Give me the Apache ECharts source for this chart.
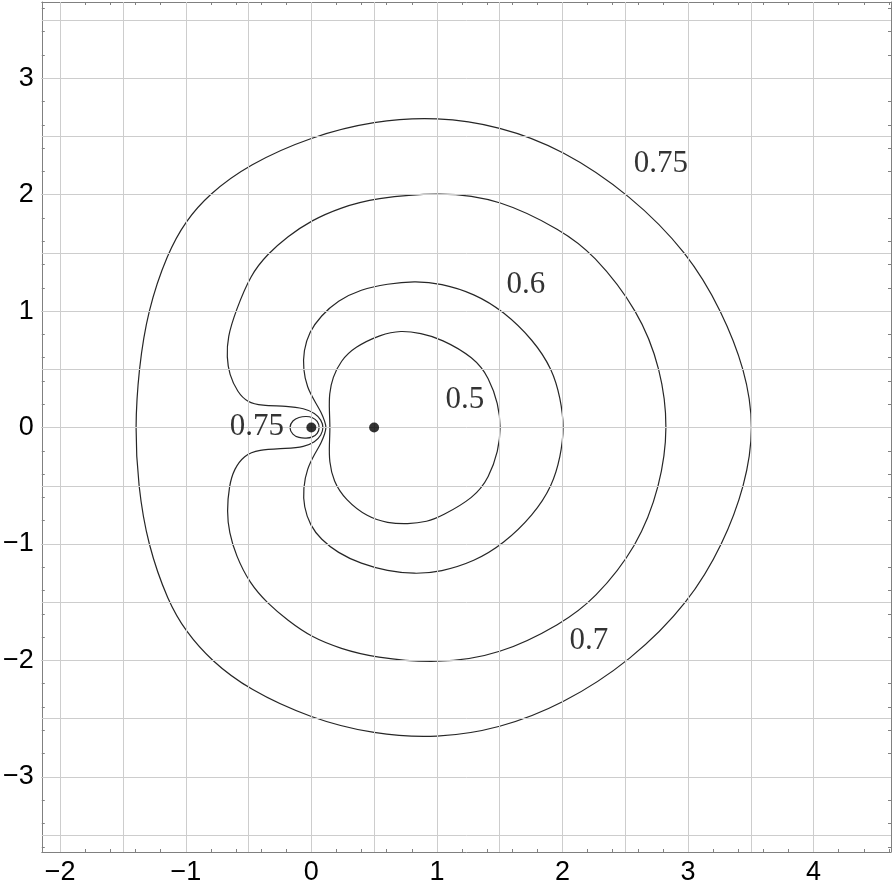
<!DOCTYPE html>
<html>
<head>
<meta charset="utf-8">
<script src="https://cdn.jsdelivr.net/npm/echarts@6/dist/echarts.min.js"></script>
<style>
html,body{margin:0;padding:0;background:#fff;}
#chart{width:895px;height:893px;}
</style>
</head>
<body>
<div id="chart"></div>
<script>
// ---- axis extents and ticks ----
const xRange = [-2.147, 4.617];
const yRange = [-3.645, 3.655];
const xTickLabels = [-2, -1, 0, 1, 2, 3, 4];
const yTickLabels = [-3, -2, -1, 0, 1, 2, 3];
const xMinorTicks = [-2.0,-1.8,-1.6,-1.4,-1.2,-1.0,-0.8,-0.6,-0.4,-0.2,0,0.2,0.4,0.6,0.8,1.0,1.2,1.4,1.6,1.8,2.0,2.2,2.4,2.6,2.8,3.0,3.2,3.4,3.6,3.8,4.0,4.2,4.4,4.6];
const yMinorTicks = [-3.6,-3.4,-3.2,-3.0,-2.8,-2.6,-2.4,-2.2,-2.0,-1.8,-1.6,-1.4,-1.2,-1.0,-0.8,-0.6,-0.4,-0.2,0,0.2,0.4,0.6,0.8,1.0,1.2,1.4,1.6,1.8,2.0,2.2,2.4,2.6,2.8,3.0,3.2,3.4,3.6];
const xGridLines = [-2,-1.5,-1,-0.5,0,0.5,1,1.5,2,2.5,3,3.5,4];
const yGridLines = [-3.5,-3,-2.5,-2,-1.5,-1,-0.5,0,0.5,1,1.5,2,2.5,3,3.5];

// ---- contour data, closed loops ----
const contour075outer = [
  [3.53,0],[3.455,0.5],[3.27,1.0],[3.0,1.5],[2.54,2.0],[2.0,2.39],[1.5,2.59],[1.0,2.67],
  [0.5,2.635],[0.0,2.50],[-0.5,2.26],[-0.82,2.0],[-1.0,1.775],[-1.146,1.5],[-1.305,1.0],
  [-1.375,0.5],[-1.405,0],[-1.38,-0.5],[-1.305,-1.0],[-1.14,-1.5],[-1.0,-1.75],[-0.80,-2.0],
  [-0.5,-2.25],[0.0,-2.50],[0.5,-2.635],[1.0,-2.67],[1.5,-2.585],[2.0,-2.38],[2.55,-2.0],
  [3.01,-1.5],[3.28,-1.0],[3.455,-0.5]
];
const contour075inner = [
  [0.068,0],[0.05,0.058],[0.01,0.088],[-0.04,0.098],[-0.1,0.09],[-0.15,0.062],[-0.18,0],
  [-0.15,-0.062],[-0.1,-0.088],[-0.04,-0.093],[0.01,-0.083],[0.05,-0.053]
];
const contour07 = [
  [2.845,0],[2.785,0.5],[2.61,1.0],[2.24,1.5],[2.0,1.69],[1.5,1.965],[1.03,2.025],
  [0.5,1.97],[0.235,1.89],[0.0,1.78],[-0.19,1.64],[-0.349,1.49],[-0.482,1.317],
  [-0.602,1.003],[-0.668,0.774],[-0.673,0.602],[-0.655,0.46],[-0.588,0.302],[-0.508,0.217],
  [-0.402,0.189],[-0.19,0.185],[-0.057,0.165],[0.03,0.125],[0.08,0.065],[0.098,0],
  [0.08,-0.065],[0.03,-0.125],[-0.057,-0.165],[-0.19,-0.18],[-0.429,-0.189],[-0.535,-0.24],
  [-0.615,-0.354],[-0.655,-0.497],[-0.673,-0.726],[-0.655,-0.897],[-0.602,-1.097],[-0.49,-1.34],
  [-0.349,-1.51],[-0.19,-1.655],[0.0,-1.80],[0.235,-1.9],[0.5,-1.975],[1.0,-2.028],[1.5,-1.955],
  [2.0,-1.68],[2.25,-1.48],[2.6,-1.02],[2.78,-0.5]
];
const contour06 = [
  [2.015,0],[1.985,0.25],[1.92,0.5],[1.77,0.75],[1.53,1.0],[1.30,1.15],[1.03,1.24],[0.819,1.258],
  [0.607,1.235],[0.394,1.188],[0.209,1.09],[0.076,0.96],[-0.018,0.82],[-0.062,0.66],[-0.065,0.5],
  [-0.035,0.345],[0.03,0.22],[0.08,0.13],[0.108,0.05],[0.12,0],[0.108,-0.05],[0.08,-0.13],
  [0.03,-0.22],[-0.035,-0.354],[-0.065,-0.52],[-0.06,-0.68],[-0.01,-0.84],[0.076,-0.96],
  [0.209,-1.075],[0.394,-1.17],[0.607,-1.232],[0.819,-1.258],[1.03,-1.24],[1.30,-1.15],
  [1.53,-1.0],[1.77,-0.75],[1.92,-0.5],[1.985,-0.25]
];
const contour05 = [
  [1.51,0],[1.49,0.2],[1.415,0.43],[1.30,0.6],[1.03,0.765],[0.873,0.81],[0.713,0.835],
  [0.554,0.8],[0.341,0.69],[0.235,0.574],[0.169,0.431],[0.142,0.289],[0.143,0.146],[0.15,0],
  [0.143,-0.146],[0.142,-0.289],[0.175,-0.46],[0.27,-0.62],[0.448,-0.77],[0.607,-0.82],
  [0.767,-0.83],[0.926,-0.808],[1.03,-0.765],[1.30,-0.6],[1.415,-0.43],[1.49,-0.2]
];
const contourLabels = [
  {name:'0.75', value:[2.785, 2.262]},
  {name:'0.6',  value:[1.709, 1.225]},
  {name:'0.5',  value:[1.223, 0.24]},
  {name:'0.7',  value:[2.211, -1.834]},
  {name:'0.75', value:[-0.434, 0.01]}
];
const points = [[0,0],[0.5,0]];

// ---- styles ----
const frameColor = '#808080';
const gridColor = '#cdcdcd';
const lineColor = '#262626';
const minus = v => String(v).replace('-', '\u2212');

function xAx(pos, ticks, len, withLine, withLabel) {
  return {
    type:'value', position:pos, min:xRange[0], max:xRange[1],
    axisLine:{show:withLine, onZero:false, lineStyle:{color:frameColor, width:1}},
    axisTick:{show:true, inside:true, length:len, customValues:ticks, lineStyle:{color:frameColor, width:1}},
    axisLabel:{show:withLabel, customValues:xTickLabels, formatter:minus, color:'#000',
      fontFamily:'Liberation Sans', fontSize:27, margin:7},
    splitLine:{show:false}
  };
}
function yAx(pos, ticks, len, withLine, withLabel) {
  return {
    type:'value', position:pos, min:yRange[0], max:yRange[1],
    axisLine:{show:withLine, onZero:false, lineStyle:{color:frameColor, width:1}},
    axisTick:{show:true, inside:true, length:len, customValues:ticks, lineStyle:{color:frameColor, width:1}},
    axisLabel:{show:withLabel, customValues:yTickLabels, formatter:minus, color:'#000',
      fontFamily:'Liberation Sans', fontSize:27, margin:8},
    splitLine:{show:false}
  };
}

// closed smooth (cubic B-spline) curve guided by the data points, positioned via api.coord
function contourSeries(data) {
  return {
    type:'custom', coordinateSystem:'cartesian2d', data:data, z:3, silent:true, animation:false,
    encode:{x:0, y:1},
    renderItem: function (params, api) {
      if (params.dataIndex !== 0) return null;
      const P = data.map(p => api.coord(p));
      const n = P.length;
      const at = i => P[((i % n) + n) % n];
      const f = v => v.toFixed(2);
      const knot = i => {
        const a = at(i-1), b = at(i), c = at(i+1);
        return [(a[0] + 4*b[0] + c[0]) / 6, (a[1] + 4*b[1] + c[1]) / 6];
      };
      const s0 = knot(0);
      let d = 'M' + f(s0[0]) + ' ' + f(s0[1]);
      for (let i = 0; i < n; i++) {
        const p1 = at(i), p2 = at(i+1);
        const c1 = [(2*p1[0] + p2[0]) / 3, (2*p1[1] + p2[1]) / 3];
        const c2 = [(p1[0] + 2*p2[0]) / 3, (p1[1] + 2*p2[1]) / 3];
        const e = knot(i+1);
        d += ' C' + f(c1[0]) + ' ' + f(c1[1]) + ' ' + f(c2[0]) + ' ' + f(c2[1]) + ' ' + f(e[0]) + ' ' + f(e[1]);
      }
      d += ' Z';
      return {
        type:'path', shape:{pathData:d}, silent:true,
        style:{fill:null, stroke:lineColor, lineWidth:1.2}
      };
    }
  };
}

const gridMarks = xGridLines.map(v => ({xAxis:v})).concat(yGridLines.map(v => ({yAxis:v})));

const option = {
  animation:false,
  backgroundColor:'#fff',
  grid:{left:41, right:4, top:2, bottom:41, containLabel:false},
  xAxis:[
    xAx('bottom', xMinorTicks, 3, true, true),
    xAx('bottom', xTickLabels, 6, false, false),
    xAx('top', xMinorTicks, 3, true, false),
    xAx('top', xTickLabels, 6, false, false)
  ],
  yAxis:[
    yAx('left', yMinorTicks, 3, true, true),
    yAx('left', yTickLabels, 6, false, false),
    yAx('right', yMinorTicks, 3, true, false),
    yAx('right', yTickLabels, 6, false, false)
  ],
  series:[
    {
      type:'scatter', data:points, symbol:'circle', symbolSize:10, z:5, silent:true,
      itemStyle:{color:'#000'},
      markLine:{
        silent:true, symbol:['none','none'], label:{show:false}, animation:false,
        lineStyle:{color:gridColor, width:1, type:'solid'},
        emphasis:{disabled:true},
        data:gridMarks
      }
    },
    contourSeries(contour075outer),
    contourSeries(contour075inner),
    contourSeries(contour07),
    contourSeries(contour06),
    contourSeries(contour05),
    {
      type:'scatter', data:contourLabels, symbolSize:0, z:6, silent:true,
      label:{show:true, position:'inside', formatter:'{b}', color:'#000',
        fontFamily:'Liberation Serif', fontSize:31}
    }
  ]
};

const chart = echarts.init(document.getElementById('chart'), null, {renderer:'canvas'});
chart.setOption(option);
</script>
</body>
</html>
